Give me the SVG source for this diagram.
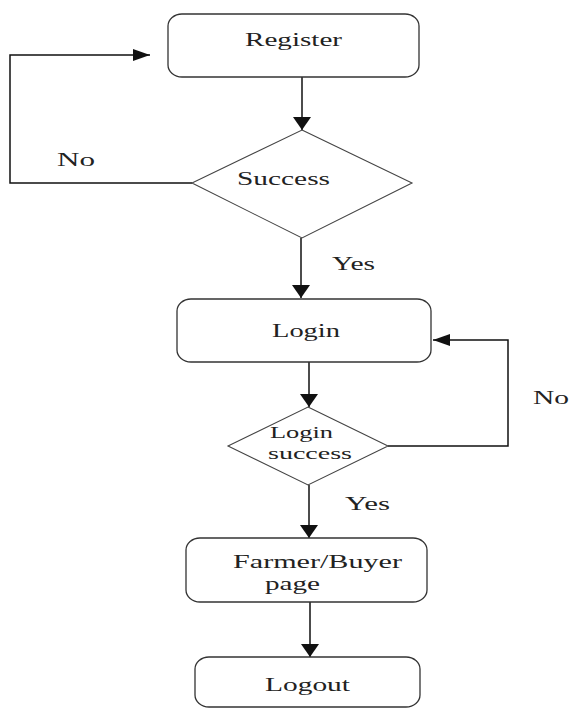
<svg xmlns="http://www.w3.org/2000/svg" width="569" height="709" viewBox="0 0 569 709">
<style>
.box{fill:#fff;stroke:#333;stroke-width:1.3}
.dia{fill:#fff;stroke:#444;stroke-width:1.1}
.t{font-family:"Liberation Serif","Times New Roman",serif;font-size:19px;fill:#222}
.s{font-size:16px}
.c{fill:none;stroke:#111;stroke-width:1.5}
</style>
<defs>
<marker id="arrV" markerUnits="userSpaceOnUse" viewBox="0 0 13 18" refX="13" refY="9" markerWidth="13" markerHeight="18" orient="auto"><path d="M0,0 L13,9 L0,18 z" fill="#111"/></marker>
<marker id="arrH" markerUnits="userSpaceOnUse" viewBox="0 0 17 12" refX="17" refY="6" markerWidth="17" markerHeight="12" orient="auto"><path d="M0,0 L17,6 L0,12 z" fill="#111"/></marker>
</defs>
<rect width="569" height="709" fill="#fff"/>
<g id="connectors">
<path class="c" d="M302,77 L302,130" marker-end="url(#arrV)"/>
<path class="c" d="M192,183 L10,183 L10,55 L150,55" marker-end="url(#arrH)"/>
<path class="c" d="M301,238 L301,298" marker-end="url(#arrV)"/>
<path class="c" d="M309,362 L309,407" marker-end="url(#arrV)"/>
<path class="c" d="M388,446 L508,446 L508,340 L433,340" marker-end="url(#arrH)"/>
<path class="c" d="M309,485 L309,538" marker-end="url(#arrV)"/>
<path class="c" d="M310,602 L310,657" marker-end="url(#arrV)"/>
<text class="t" x="57" y="166" textLength="38" lengthAdjust="spacingAndGlyphs">No</text>
<text class="t" x="332" y="270" textLength="43" lengthAdjust="spacingAndGlyphs">Yes</text>
<text class="t" x="533" y="404" textLength="36" lengthAdjust="spacingAndGlyphs">No</text>
<text class="t" x="345" y="510" textLength="45" lengthAdjust="spacingAndGlyphs">Yes</text>
</g>
<g id="register">
<rect class="box" x="168" y="14" width="251" height="63" rx="14" ry="12"/>
<text class="t" x="245" y="46" textLength="97" lengthAdjust="spacingAndGlyphs">Register</text>
</g>
<g id="success">
<polygon class="dia" points="302,130 412,183 302,238 192,183"/>
<text class="t" x="237" y="185" textLength="93" lengthAdjust="spacingAndGlyphs">Success</text>
</g>
<g id="login">
<rect class="box" x="177" y="299" width="254" height="63" rx="14" ry="12"/>
<text class="t" x="272" y="337" textLength="68" lengthAdjust="spacingAndGlyphs">Login</text>
</g>
<g id="login-success">
<polygon class="dia" points="308,407 388,446 308,485 228,446"/>
<text class="t s" x="270" y="438" textLength="63" lengthAdjust="spacingAndGlyphs">Login</text>
<text class="t s" x="268" y="459" textLength="84" lengthAdjust="spacingAndGlyphs">success</text>
</g>
<g id="farmer-buyer">
<rect class="box" x="186" y="538" width="241" height="64" rx="14" ry="12"/>
<text class="t" x="233" y="568" textLength="169" lengthAdjust="spacingAndGlyphs">Farmer/Buyer</text>
<text class="t" x="265" y="590" textLength="55" lengthAdjust="spacingAndGlyphs">page</text>
</g>
<g id="logout">
<rect class="box" x="195" y="657" width="225" height="50" rx="14" ry="12"/>
<text class="t" x="265" y="691" textLength="85" lengthAdjust="spacingAndGlyphs">Logout</text>
</g>
</svg>
